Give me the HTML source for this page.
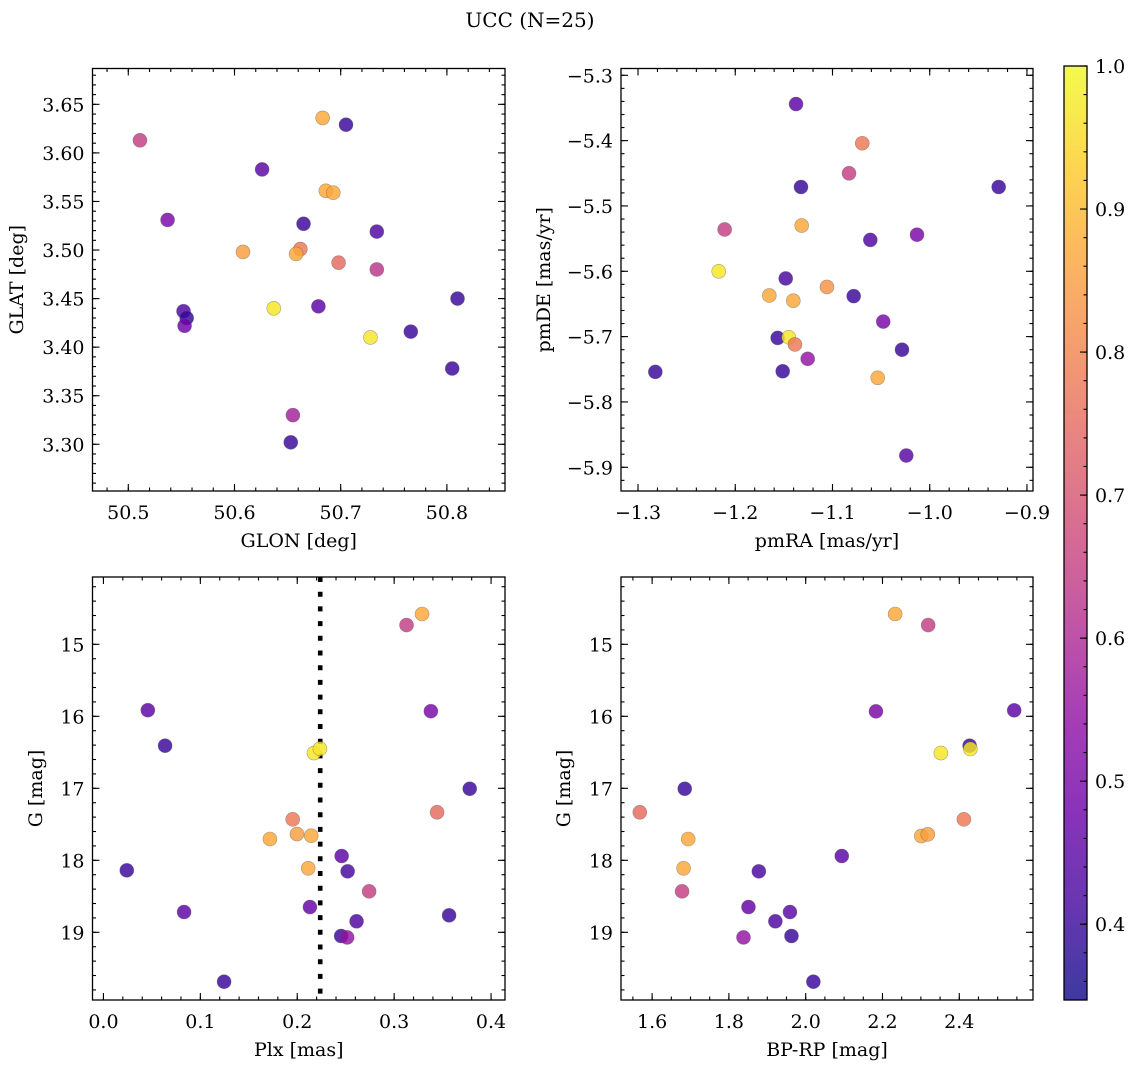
<!DOCTYPE html>
<html><head><meta charset="utf-8"><style>
html,body{margin:0;padding:0;background:#fff;}
svg{display:block;font-family:"DejaVu Serif","Liberation Serif",serif;}
</style></head><body>
<svg id="fig" width="1136" height="1067" viewBox="0 0 1136 1067" xmlns="http://www.w3.org/2000/svg">
<text x="530" y="27" font-size="20" text-anchor="middle">UCC (N=25)</text>
</svg>
<script>
// ---- data ----
const glon = [50.511,50.683,50.705,50.626,50.686,50.693,50.537,50.665,50.734,50.608,50.662,50.658,50.698,50.734,50.637,50.679,50.552,50.555,50.553,50.810,50.766,50.728,50.805,50.655,50.653];
const glat = [3.613,3.636,3.629,3.583,3.561,3.559,3.531,3.527,3.519,3.498,3.501,3.496,3.487,3.480,3.440,3.442,3.437,3.430,3.422,3.450,3.416,3.410,3.378,3.330,3.302];
const probTL = [0.65,0.87,0.40,0.45,0.87,0.87,0.50,0.40,0.43,0.85,0.78,0.87,0.75,0.63,0.97,0.45,0.43,0.40,0.48,0.40,0.40,0.97,0.40,0.58,0.40];

const pmra = [-1.1375,-1.0694,-1.0830,-1.1324,-0.9291,-1.1317,-1.2109,-1.0611,-1.0131,-1.2170,-1.1481,-1.1057,-1.1650,-1.1403,-1.0782,-1.0478,-1.1564,-1.1450,-1.1386,-1.1255,-1.0285,-1.2822,-1.1512,-1.0535,-1.0241];
const pmde = [-5.344,-5.404,-5.450,-5.471,-5.471,-5.530,-5.536,-5.552,-5.544,-5.600,-5.611,-5.624,-5.637,-5.645,-5.638,-5.677,-5.702,-5.701,-5.712,-5.734,-5.720,-5.754,-5.753,-5.763,-5.882];
const probTR = [0.45,0.78,0.65,0.40,0.40,0.87,0.65,0.43,0.50,0.97,0.42,0.83,0.87,0.87,0.40,0.50,0.40,0.97,0.78,0.55,0.40,0.40,0.40,0.87,0.45];

const plx = [0.3288,0.3128,0.0458,0.3379,0.0636,0.2172,0.2234,0.3780,0.3443,0.1953,0.1718,0.1997,0.2144,0.2458,0.0241,0.2113,0.2520,0.2742,0.0832,0.2131,0.3567,0.2612,0.2453,0.2515,0.1245];
const gmagBL = [14.579,14.733,15.915,15.929,16.408,16.510,16.450,17.006,17.333,17.431,17.704,17.635,17.658,17.940,18.139,18.111,18.153,18.431,18.718,18.649,18.764,18.847,19.051,19.071,19.686];
const probBL = [0.87,0.65,0.45,0.50,0.40,0.97,0.97,0.40,0.75,0.78,0.87,0.85,0.87,0.45,0.40,0.87,0.42,0.65,0.45,0.47,0.40,0.43,0.40,0.55,0.40];
const plxMedian = 0.2237;

const bprp = [2.233,2.319,2.183,2.543,2.427,2.429,2.352,1.685,1.568,2.412,1.694,2.301,2.318,2.094,1.682,1.878,1.678,1.851,1.959,1.921,1.838,1.963,2.020];
const gmagBR = [14.579,14.733,15.931,15.917,16.408,16.454,16.510,17.006,17.333,17.431,17.704,17.663,17.639,17.940,18.111,18.153,18.431,18.649,18.718,18.847,19.071,19.051,19.686];
const probBR = [0.87,0.65,0.50,0.45,0.40,0.97,0.97,0.40,0.75,0.78,0.87,0.87,0.85,0.45,0.87,0.42,0.65,0.47,0.45,0.43,0.55,0.40,0.40];

const cbTicks = [0.4,0.5,0.6,0.7,0.8,0.9,1.0];
const cbMin = 0.347, cbMax = 1.0;

// ---- helpers ----
const NS = "http://www.w3.org/2000/svg";
const svg = document.getElementById('fig');
function el(tag, attrs, parent){const e=document.createElementNS(NS,tag);for(const k in attrs)e.setAttribute(k,attrs[k]);(parent||svg).appendChild(e);return e;}
const plasma=[[13,8,135],[65,4,157],[106,0,168],[143,13,164],[177,42,144],[204,71,120],[225,100,98],[242,132,75],[252,166,54],[252,206,37],[240,249,33]];
function cmap(t){t=Math.max(0,Math.min(1,t));const f=t*10,i=Math.min(9,Math.floor(f)),r=f-i;const a=plasma[i],b=plasma[i+1];
 return `rgb(${Math.round(a[0]+(b[0]-a[0])*r)},${Math.round(a[1]+(b[1]-a[1])*r)},${Math.round(a[2]+(b[2]-a[2])*r)})`;}
function colorOf(v){return cmap((v-cbMin)/(cbMax-cbMin));}
function fmt(v,d){let s=v.toFixed(d);return s.replace('-','\u2212');}
const FS=19;

function panel(o){
 const g=el('g',{});
 
 
 const L=o.L,R=o.R,T=o.T,B=o.B;
 const sx=v=>L+(v-o.xmin)/(o.xmax-o.xmin)*(R-L);
 const sy=v=> o.yinv ? T+(v-o.ymin)/(o.ymax-o.ymin)*(B-T) : B-(v-o.ymin)/(o.ymax-o.ymin)*(B-T);
 const eps=1e-9;
 function ticks(a,b,step){const out=[];const s=Math.ceil(a/step-eps);for(let k=s;k*step<=b+eps;k++)out.push(+(k*step).toFixed(6));return out;}
 const tg=el('g',{stroke:'#000','stroke-width':1.1},g);
 
 
 ticks(o.xmin,o.xmax,o.xminor).forEach(v=>{const x=sx(v);el('line',{x1:x,x2:x,y1:B,y2:B-3.5},tg);el('line',{x1:x,x2:x,y1:T,y2:T+3.5},tg);});
 ticks(o.ymin,o.ymax,o.yminor).forEach(v=>{const y=sy(v);el('line',{x1:L,x2:L+3.5,y1:y,y2:y},tg);el('line',{x1:R,x2:R-3.5,y1:y,y2:y},tg);});
 ticks(o.xmin,o.xmax,o.xmajor).forEach(v=>{const x=sx(v);el('line',{x1:x,x2:x,y1:B,y2:B-7},tg);el('line',{x1:x,x2:x,y1:T,y2:T+7},tg);
   const t=el('text',{x:x,y:B+28,'font-size':FS,'text-anchor':'middle',stroke:'none',fill:'#000'},g);t.textContent=fmt(v,o.xdec);
   });
 ticks(o.ymin,o.ymax,o.ymajor).forEach(v=>{const y=sy(v);el('line',{x1:L,x2:L+7,y1:y,y2:y},tg);el('line',{x1:R,x2:R-7,y1:y,y2:y},tg);
   const t=el('text',{x:L-8,y:y+7,'font-size':FS,'text-anchor':'end',stroke:'none',fill:'#000'},g);t.textContent=fmt(v,o.ydec);
   });
 if(o.vline!==undefined){const x=sx(o.vline);const ln=el('line',{x1:x,x2:x,y1:T,y2:B,stroke:'#000','stroke-width':4.6,'stroke-dasharray':'5 9.7'},g);
   }
 const pg=el('g',{},g);
 
 
 o.x.forEach((xv,i)=>{const c=el('circle',{cx:sx(xv),cy:sy(o.y[i]),r:7,fill:colorOf(o.c[i]),'fill-opacity':0.82,stroke:'#555','stroke-opacity':0.5,'stroke-width':0.6},pg);
   });
 const fr=el('rect',{x:L,y:T,width:R-L,height:B-T,fill:'none',stroke:'#000','stroke-width':1.3},g);
 
 const xl=el('text',{x:(L+R)/2,y:B+56,'font-size':FS,'text-anchor':'middle'},g);xl.textContent=o.xlabel;
 
 const yl=el('text',{x:0,y:0,'font-size':FS,'text-anchor':'middle',transform:`translate(${o.ylx},${(T+B)/2}) rotate(-90)`},g);yl.textContent=o.ylabel;
 
}

panel({name:'glon-glat-panel',L:92.5,R:505,T:68.5,B:491,xmin:50.4663,xmax:50.8547,ymin:3.2519,ymax:3.6869,
 xmajor:0.1,xminor:0.02,ymajor:0.05,yminor:0.01,xdec:1,ydec:2,x:glon,y:glat,c:probTL,xlabel:'GLON [deg]',ylabel:'GLAT [deg]',ylx:23});
panel({name:'proper-motion-panel',L:621,R:1033,T:68.5,B:491,xmin:-1.3175,xmax:-0.8938,ymin:-5.9363,ymax:-5.2896,
 xmajor:0.1,xminor:0.02,ymajor:0.1,yminor:0.02,xdec:1,ydec:1,x:pmra,y:pmde,c:probTR,xlabel:'pmRA [mas/yr]',ylabel:'pmDE [mas/yr]',ylx:550});
panel({name:'parallax-mag-panel',L:92.5,R:505,T:577,B:1000,xmin:-0.0113,xmax:0.4144,ymin:14.065,ymax:19.94,yinv:true,
 xmajor:0.1,xminor:0.02,ymajor:1,yminor:0.2,xdec:1,ydec:0,x:plx,y:gmagBL,c:probBL,vline:plxMedian,xlabel:'Plx [mas]',ylabel:'G [mag]',ylx:42});
panel({name:'cmd-panel',L:621,R:1033,T:577,B:1000,xmin:1.519,xmax:2.592,ymin:14.065,ymax:19.94,yinv:true,
 xmajor:0.2,xminor:0.05,ymajor:1,yminor:0.2,xdec:1,ydec:0,x:bprp,y:gmagBR,c:probBR,xlabel:'BP-RP [mag]',ylabel:'G [mag]',ylx:570});

// colorbar
const cb=el('g',{});


const CT=66,CB=1000,CL=1064,CR=1087;
const defs=el('defs',{},cb);
const lg=el('linearGradient',{id:'cbg',x1:0,y1:1,x2:0,y2:0},defs);
for(let k=0;k<=20;k++){el('stop',{offset:k/20,'stop-color':cmap(k/20),'stop-opacity':0.8},lg);}
const cr=el('rect',{x:CL,y:CT,width:CR-CL,height:CB-CT,fill:'url(#cbg)',stroke:'#000','stroke-width':1.3},cb);

const cy=v=>CB-(v-cbMin)/(cbMax-cbMin)*(CB-CT);
for(let v=0.36;v<=1.0001;v+=0.02){const y=cy(v);el('line',{x1:CR,x2:CR-3.5,y1:y,y2:y,stroke:'#000','stroke-width':1.1},cb);}
cbTicks.forEach(v=>{const y=cy(v);el('line',{x1:CR,x2:CR-7,y1:y,y2:y,stroke:'#000','stroke-width':1.1},cb);
 const t=el('text',{x:CR+8,y:y+7,'font-size':FS},cb);t.textContent=v.toFixed(1);
 });
</script>
</body></html>
